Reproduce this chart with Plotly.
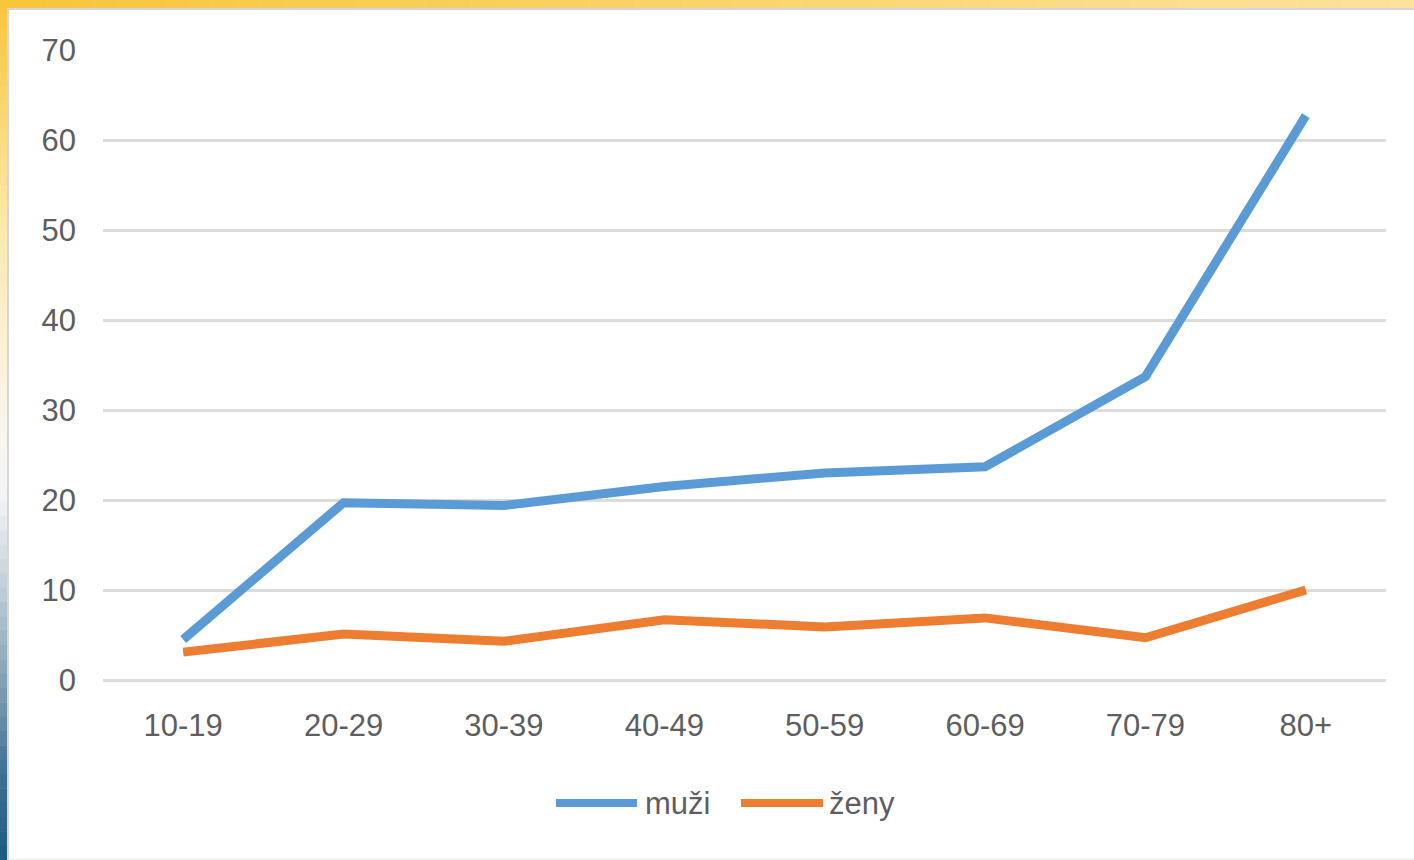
import plotly.graph_objects as go

categories = ["10-19", "20-29", "30-39", "40-49", "50-59", "60-69", "70-79", "80+"]
muzi = [4.5, 19.7, 19.4, 21.5, 23.0, 23.7, 33.7, 62.7]
zeny = [3.1, 5.1, 4.3, 6.7, 5.9, 6.9, 4.7, 10.0]
series_names = ["muži", "ženy"]
y_ticks = [0, 10, 20, 30, 40, 50, 60, 70]

W, H = 1414, 860
ML, MR, MT, MB = 103, 28, 50, 180
PW, PH = W - ML - MR, H - MT - MB

BLUE = "#5B9BD5"
ORANGE = "#ED7D31"
GRID = "#DCDCDC"
TEXT = "#5E5E5E"
FONT = "Liberation Sans"


def px_x(px):
    return (px - ML) / PW


def px_y(py):
    return (H - MB - py) / PH


def hex2rgb(h):
    h = h.lstrip("#")
    return tuple(int(h[i:i + 2], 16) for i in (0, 2, 4))


def interp(stops, t):
    for (t0, c0), (t1, c1) in zip(stops, stops[1:]):
        if t0 <= t <= t1:
            f = 0 if t1 == t0 else (t - t0) / (t1 - t0)
            a, b = hex2rgb(c0), hex2rgb(c1)
            return "rgb(%d,%d,%d)" % tuple(round(a[i] + (b[i] - a[i]) * f) for i in range(3))
    return stops[-1][1]


fig = go.Figure()
fig.add_trace(go.Scatter(x=categories, y=muzi, mode="lines", name=series_names[0],
                         line=dict(color=BLUE, width=9), cliponaxis=False))
fig.add_trace(go.Scatter(x=categories, y=zeny, mode="lines", name=series_names[1],
                         line=dict(color=ORANGE, width=9), cliponaxis=False))

shapes = []
# left gradient band
left_stops = [(0, "#F8C53A"), (0.25, "#FCE7A8"), (0.5, "#FBF7EE"), (0.58, "#F2F4F6"),
              (0.68, "#C3D0DA"), (0.8, "#7E9DB2"), (0.9, "#3F7092"), (1.0, "#1D5A7E")]
N = 60
for i in range(N):
    y0 = H * i / N
    y1 = H * (i + 1) / N + 0.5
    shapes.append(dict(type="rect", xref="paper", yref="paper", layer="below",
                       x0=px_x(0), x1=px_x(7), y0=px_y(y0), y1=px_y(y1),
                       fillcolor=interp(left_stops, (i + 0.5) / N), line=dict(width=0)))
# top gradient band
top_stops = [(0, "#F8C53A"), (0.5, "#FAD46A"), (1.0, "#FCE29E")]
for i in range(N):
    x0 = W * i / N
    x1 = W * (i + 1) / N + 0.5
    shapes.append(dict(type="rect", xref="paper", yref="paper", layer="below",
                       x0=px_x(x0), x1=px_x(x1), y0=px_y(0), y1=px_y(8),
                       fillcolor=interp(top_stops, (i + 0.5) / N), line=dict(width=0)))
# thin gray frame lines
shapes.append(dict(type="line", xref="paper", yref="paper", layer="below",
                   x0=px_x(7), x1=px_x(W), y0=px_y(9), y1=px_y(9),
                   line=dict(color="#D6D6D6", width=2)))
shapes.append(dict(type="line", xref="paper", yref="paper", layer="below",
                   x0=px_x(8), x1=px_x(8), y0=px_y(8), y1=px_y(H),
                   line=dict(color="#D6D6D6", width=2)))
shapes.append(dict(type="line", xref="paper", yref="paper", layer="below",
                   x0=px_x(7), x1=px_x(W), y0=px_y(859), y1=px_y(859),
                   line=dict(color="#E6E6E6", width=1)))

# custom legend (wide line samples)
legend_items = [(series_names[0], BLUE, 556, 637, 643), (series_names[1], ORANGE, 741, 823, 827)]
annotations = []
for name, col, lx0, lx1, tx in legend_items:
    shapes.append(dict(type="line", xref="paper", yref="paper",
                       x0=px_x(lx0), x1=px_x(lx1), y0=px_y(803), y1=px_y(803),
                       line=dict(color=col, width=8)))
    annotations.append(dict(xref="paper", yref="paper", x=px_x(tx), y=px_y(803),
                            xanchor="left", yanchor="middle", text=name, showarrow=False,
                            font=dict(family=FONT, size=31, color=TEXT)))

fig.update_layout(
    width=W, height=H,
    margin=dict(l=ML, r=MR, t=MT, b=MB),
    paper_bgcolor="white", plot_bgcolor="white",
    showlegend=False,
    shapes=shapes, annotations=annotations,
    font=dict(family=FONT, size=31, color=TEXT),
    xaxis=dict(type="category", range=[-0.5, 7.5], showgrid=False, zeroline=False,
               showline=False, ticks="", tickfont=dict(size=31, color=TEXT),
               ticklabelstandoff=24, fixedrange=True),
    yaxis=dict(range=[0, 70], tickvals=y_ticks, showgrid=True, gridcolor=GRID, gridwidth=3,
               zeroline=True, zerolinecolor=GRID, zerolinewidth=3, showline=False, ticks="",
               tickfont=dict(size=31, color=TEXT), ticklabelstandoff=26, fixedrange=True),
)

fig.write_html("out.html", config={"displayModeBar": False})
